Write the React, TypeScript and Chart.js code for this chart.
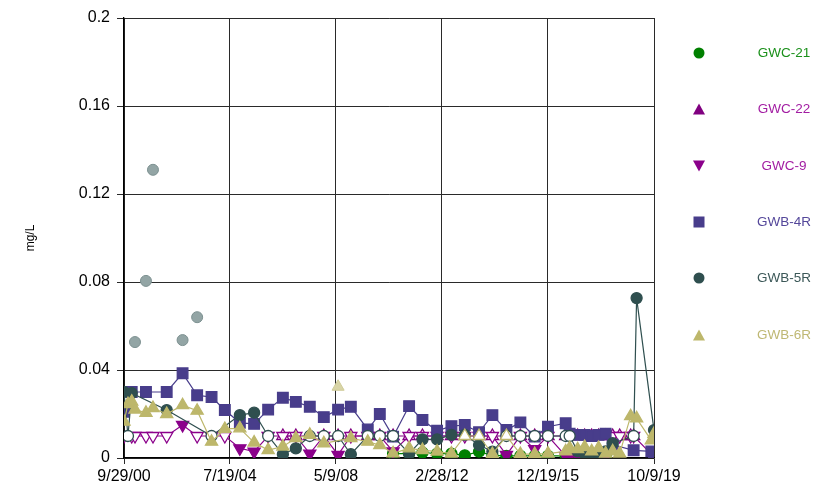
import React, { useEffect, useRef } from "react";
import { Chart, registerables } from "chart.js";

Chart.register(...registerables);

const X_TICK_LABELS = ["9/29/00", "7/19/04", "5/9/08", "2/28/12", "12/19/15", "10/9/19"];
const X_TICK_DATES = ["2000-09-29", "2004-07-19", "2008-05-09", "2012-02-28", "2015-12-19", "2019-10-09"];
const Y_TICKS = [0, 0.04, 0.08, 0.12, 0.16, 0.2];
const Y_TICK_LABELS = ["0", "0.04", "0.08", "0.12", "0.16", "0.2"];

const n = null;

const sampleDates = [
  "2000-09-29", "2000-11-20", "2001-01-08", "2001-02-20", "2001-07-14", "2001-10-14", "2002-04-12", "2002-11-06", "2003-05-16", "2003-11-21",
  "2004-05-13", "2004-11-26", "2005-06-01", "2005-12-02", "2006-06-13", "2006-11-30", "2007-06-01", "2007-12-02", "2008-06-06", "2008-11-20",
  "2009-06-30", "2009-12-05", "2010-05-28", "2010-12-24", "2011-06-17", "2011-12-26", "2012-07-01", "2012-12-23", "2013-06-28", "2013-12-20",
  "2014-06-22", "2014-12-22", "2015-06-28", "2015-12-19", "2016-08-07", "2016-09-28", "2017-01-11", "2017-04-13", "2017-07-14", "2017-10-13",
  "2018-01-13", "2018-04-15", "2018-07-16", "2018-12-07", "2019-01-15", "2019-02-23", "2019-06-08", "2019-09-04", "2019-10-09",
];

const gwc21 = [
  n, n, n, n, n, n, n, n, n, n,
  n, n, n, n, n, n, n, n, n, n,
  n, n, 0.002, 0.002, 0.0025, 0.002, 0.002, 0.0012, 0.0029, 0.0012,
  0.001, 0.001, 0.001, 0.001, 0.001, 0.001, 0.001, 0.001, 0.001, 0.001,
  0.001, n, n, n, n, n, n, n, n,
];

const gwc22 = [
  n, n, n, n, n, n, n, n, n, n,
  n, n, n, n, 0.01, 0.01, 0.01, 0.01, 0.01, 0.01,
  0.01, 0.01, 0.01, 0.01, 0.01, 0.01, 0.01, 0.01, 0.01, 0.01,
  0.01, 0.01, 0.01, 0.01, 0.01, 0.01, 0.01, 0.01, 0.01, 0.01,
  0.01, 0.01, 0.01, 0.01, 0.01, n, n, n, n,
];
const gwc22NonDetect = [
  0, 0, 0, 0, 0, 0, 0, 0, 0, 0,
  0, 0, 0, 0, 1, 1, 1, 1, 1, 1,
  1, 1, 1, 1, 1, 1, 1, 1, 1, 1,
  1, 1, 1, 1, 1, 1, 1, 1, 1, 1,
  1, 1, 1, 1, 1, 0, 0, 0, 0,
];

const gwc9 = [
  0.01, n, 0.01, 0.01, 0.01, 0.01, 0.01, 0.015, 0.01, 0.01,
  0.01, 0.0044, 0.0029, 0.01, 0.01, 0.01, 0.002, 0.01, 0.0014, 0.01,
  0.01, 0.01, 0.003, 0.01, 0.01, 0.01, 0.01, 0.01, 0.01, 0.01,
  0.0014, 0.01, 0.004, 0.01, 0.001, 0.001, 0.0008, 0.001, 0.001, 0.0008,
  0.001, 0.01, 0.01, 0.01, 0.01, n, n, n, 0.0005,
];
const gwc9NonDetect = [
  1, 0, 1, 1, 1, 1, 1, 0, 1, 1,
  1, 0, 0, 1, 1, 1, 0, 1, 0, 1,
  1, 1, 0, 1, 1, 1, 1, 1, 1, 1,
  0, 1, 0, 1, 0, 0, 0, 0, 0, 0,
  0, 1, 1, 1, 1, 0, 0, 0, 0,
];

const gwb4r = [
  0.021, n, 0.03, n, 0.03, n, 0.03, 0.0385, 0.0285, 0.0277,
  0.0218, 0.016, 0.0155, 0.022, 0.0274, 0.0255, 0.0233, 0.0186, 0.022, 0.0233,
  0.013, 0.02, 0.0097, 0.0236, 0.0173, 0.0124, 0.0145, 0.015, 0.0117, 0.0195,
  0.0127, 0.0162, 0.0097, 0.0142, 0.0158, 0.011, 0.0105, 0.0105, 0.01, 0.0105,
  0.011, 0.006, n, n, 0.0035, n, n, 0.003, 0.0025,
];

const gwb5r = [
  0.03, 0.01, 0.0295, n, n, n, 0.0218, n, n, 0.01,
  n, 0.0195, 0.0206, 0.01, 0.0017, 0.0044, 0.01, 0.01, 0.01, 0.0017,
  0.01, 0.01, 0.01, 0.002, 0.0085, 0.0085, 0.0105, 0.0105, 0.0059, 0.0029,
  0.01, 0.01, 0.01, 0.01, 0.01, 0.01, 0.003, 0.002, 0.002, 0.002,
  0.003, 0.0067, n, n, 0.01, 0.0727, n, n, 0.0127,
];
const gwb5rNonDetect = [
  0, 1, 0, 0, 0, 0, 0, 0, 0, 1,
  0, 0, 0, 1, 0, 0, 1, 1, 1, 0,
  1, 1, 1, 0, 0, 0, 0, 0, 0, 0,
  1, 1, 1, 1, 1, 1, 0, 0, 0, 0,
  0, 0, 0, 0, 1, 0, 0, 0, 0,
];
const gwb5rFlagged = [
  n, n, n, 0.0527, 0.0805, 0.131, n, 0.0536, 0.064, n,
];

const gwb6r = [
  0.0165, 0.0245, 0.0256, 0.022, 0.0205, 0.0227, 0.02, 0.024, 0.0215, 0.0074,
  0.0132, 0.0135, 0.007, 0.0036, 0.0052, 0.009, 0.0105, 0.0067, n, 0.009,
  0.0074, 0.0059, 0.0021, 0.0044, 0.0036, 0.0029, 0.002, 0.01, 0.01, 0.0018,
  0.01, 0.0018, 0.0018, 0.002, 0.003, 0.0045, 0.004, 0.005, 0.003, 0.0045,
  0.002, 0.003, 0.002, 0.019, n, 0.018, n, 0.008, 0.011,
];
const gwb6rNonDetect = [
  0, 0, 0, 0, 0, 0, 0, 0, 0, 0,
  0, 0, 0, 0, 0, 0, 0, 0, 0, 0,
  0, 0, 0, 0, 0, 0, 0, 1, 1, 0,
  1, 0, 0, 0, 0, 0, 0, 0, 0, 0,
  0, 0, 0, 0, 0, 0, 0, 0, 0,
];
const gwb6rFlagged = [
  n, n, n, n, n, n, n, n, n, n,
  n, n, n, n, n, n, n, n, 0.0324, n,
];

const SERIES_NAMES = ["GWC-21", "GWC-22", "GWC-9", "GWB-4R", "GWB-5R", "GWB-6R"];
const SERIES_COLORS = ["#008000", "#800080", "#8B008B", "#483D8B", "#2F4F4F", "#BDB76B"];
const LEGEND_TEXT_COLORS = ["#1A901A", "#A21CA2", "#A21CA2", "#54479A", "#3C5858", "#BFB874"];

const BASE = Date.UTC(2000, 8, 29);
function dayOffset(s: string): number {
  const [y, m, d] = s.split("-").map(Number);
  return Math.round((Date.UTC(y, m - 1, d) - BASE) / 86400000);
}

function toPoints(vals: (number | null)[], nd?: number[]) {
  const out: any[] = [];
  vals.forEach((v, i) => {
    if (v == null) return;
    out.push({ x: dayOffset(sampleDates[i]), y: v, nd: nd ? nd[i] === 1 : false });
  });
  return out;
}

function lineSet(label: string, color: string, vals: (number | null)[], nd: number[] | undefined, style: string, radius: number, rotation: number, order: number) {
  return {
    label,
    data: toPoints(vals, nd),
    borderColor: color,
    borderWidth: 1.2,
    showLine: true,
    pointStyle: style,
    pointRotation: rotation,
    pointRadius: radius,
    pointBorderWidth: 1.3,
    pointBorderColor: color,
    pointBackgroundColor: (ctx: any) => (ctx.raw && ctx.raw.nd ? "#ffffff" : color),
    order,
  };
}

function LegendMarker({ kind, color }: { kind: string; color: string }) {
  return (
    <svg width={14} height={14} viewBox="0 0 14 14">
      {kind === "circle" && <circle cx={7} cy={7} r={5.5} fill={color} />}
      {kind === "up" && <polygon points="7,1.5 13,12.5 1,12.5" fill={color} />}
      {kind === "down" && <polygon points="1,1.5 13,1.5 7,12.5" fill={color} />}
      {kind === "square" && <rect x={1.5} y={1.5} width={11} height={11} fill={color} />}
    </svg>
  );
}

const LEGEND_KINDS = ["circle", "up", "down", "square", "circle", "up"];

export default function App() {
  const ref = useRef<HTMLCanvasElement>(null);

  useEffect(() => {
    const tickDays = X_TICK_DATES.map(dayOffset);
    const datasets: any[] = [
      lineSet(SERIES_NAMES[0], SERIES_COLORS[0], gwc21, undefined, "circle", 5.5, 0, 6),
      lineSet(SERIES_NAMES[1], SERIES_COLORS[1], gwc22, gwc22NonDetect, "triangle", 7, 0, 5),
      lineSet(SERIES_NAMES[2], SERIES_COLORS[2], gwc9, gwc9NonDetect, "triangle", 7, 180, 4),
      lineSet(SERIES_NAMES[3], SERIES_COLORS[3], gwb4r, undefined, "rect", 7.5, 0, 3),
      lineSet(SERIES_NAMES[4], SERIES_COLORS[4], gwb5r, gwb5rNonDetect, "circle", 5.5, 0, 2),
      lineSet(SERIES_NAMES[5], SERIES_COLORS[5], gwb6r, gwb6rNonDetect, "triangle", 7, 0, 1),
      {
        label: "GWB-5R flagged",
        data: toPoints(gwb5rFlagged),
        showLine: false,
        pointStyle: "circle",
        pointRadius: 5.5,
        pointBorderWidth: 1,
        pointBackgroundColor: "#93A5A5",
        pointBorderColor: "#7C9090",
        order: 0,
      },
      {
        label: "GWB-6R flagged",
        data: toPoints(gwb6rFlagged),
        showLine: false,
        pointStyle: "triangle",
        pointRadius: 7,
        pointBorderWidth: 1,
        pointBackgroundColor: "#D8D4A6",
        pointBorderColor: "#CFCB98",
        order: 0,
      },
    ];

    const fontFamily = "'Liberation Sans', Arial, sans-serif";
    const chart = new Chart(ref.current as HTMLCanvasElement, {
      type: "scatter",
      data: { datasets },
      options: {
        animation: false,
        responsive: false,
        maintainAspectRatio: false,
        layout: { padding: { top: 18, right: 160, bottom: 0, left: 0 } },
        plugins: { legend: { display: false }, tooltip: { enabled: false } },
        scales: {
          x: {
            type: "linear",
            min: tickDays[0],
            max: tickDays[tickDays.length - 1],
            afterBuildTicks: (scale: any) => {
              scale.ticks = tickDays.map((v) => ({ value: v }));
            },
            afterFit: (scale: any) => {
              scale.height = 32;
            },
            ticks: {
              autoSkip: false,
              maxRotation: 0,
              minRotation: 0,
              padding: 3,
              color: "#000",
              font: { family: fontFamily, size: 16 },
              callback: (_v: any, i: number) => X_TICK_LABELS[i],
            },
            grid: { color: "#2a2a2a", lineWidth: 1, tickLength: 6, drawTicks: true },
            border: { color: "#000", width: 1.3 },
          },
          y: {
            type: "linear",
            min: 0,
            max: 0.2,
            afterBuildTicks: (scale: any) => {
              scale.ticks = Y_TICKS.map((v) => ({ value: v }));
            },
            afterFit: (scale: any) => {
              scale.width = 124;
            },
            ticks: {
              padding: 7,
              color: "#000",
              font: { family: fontFamily, size: 16 },
              callback: (_v: any, i: number) => Y_TICK_LABELS[i],
            },
            grid: { color: "#2a2a2a", lineWidth: 1, tickLength: 7 },
            border: { color: "#000", width: 1.3 },
            title: {
              display: true,
              text: "mg/L",
              color: "#000",
              font: { family: fontFamily, size: 12 },
              padding: { top: 23, bottom: 0 },
            },
          },
        },
      } as any,
    });
    return () => chart.destroy();
  }, []);

  return (
    <div style={{ position: "absolute", left: 0, top: 0, width: 814, height: 490, background: "#fff", overflow: "hidden" }}>
      <canvas ref={ref} width={814} height={490} style={{ position: "absolute", left: 0, top: 0, width: 814, height: 490 }} />
      {SERIES_NAMES.map((name, i) => {
        const cy = 53 + i * 56.3;
        return (
          <React.Fragment key={name}>
            <div style={{ position: "absolute", left: 692, top: cy - 7, width: 14, height: 14 }}>
              <LegendMarker kind={LEGEND_KINDS[i]} color={SERIES_COLORS[i]} />
            </div>
            <div
              style={{
                position: "absolute",
                left: 744,
                top: cy - 9,
                width: 80,
                height: 18,
                lineHeight: "18px",
                textAlign: "center",
                fontFamily: "'Liberation Sans', Arial, sans-serif",
                fontSize: 13.5,
                color: LEGEND_TEXT_COLORS[i],
                whiteSpace: "nowrap",
              }}
            >
              {name}
            </div>
          </React.Fragment>
        );
      })}
    </div>
  );
}
